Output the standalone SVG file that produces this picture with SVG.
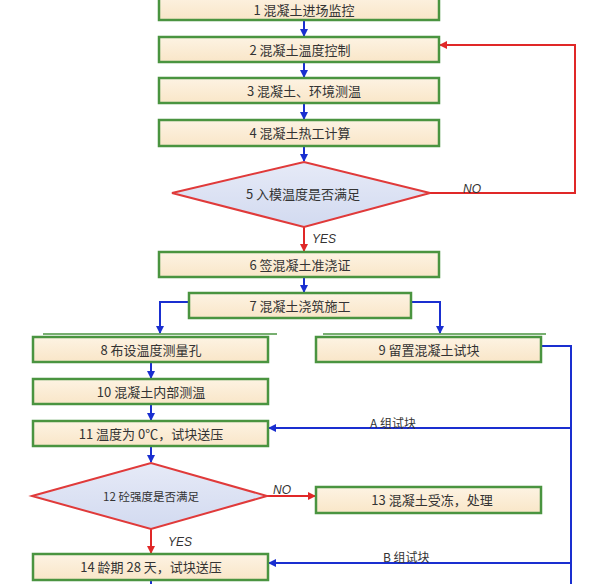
<svg xmlns="http://www.w3.org/2000/svg" width="598" height="584" viewBox="0 0 598 584">
<defs>
<linearGradient id="boxg" x1="0" y1="0" x2="0" y2="1">
<stop offset="0" stop-color="#fdf3e3"/>
<stop offset="1" stop-color="#f9e6c8"/>
</linearGradient>
<linearGradient id="diag" x1="0" y1="0" x2="0" y2="1">
<stop offset="0" stop-color="#e6eaf7"/>
<stop offset="1" stop-color="#d2daf0"/>
</linearGradient>
<marker id="ab" markerWidth="8" markerHeight="8" refX="7" refY="4" orient="auto" markerUnits="userSpaceOnUse">
<path d="M0,0 L8,4 L0,8 Z" fill="#1a2fd0"/>
</marker>
<marker id="ar" markerWidth="8" markerHeight="8" refX="7" refY="4" orient="auto" markerUnits="userSpaceOnUse">
<path d="M0,0 L8,4 L0,8 Z" fill="#e02828"/>
</marker>
</defs>
<style>
.box{fill:url(#boxg);stroke:#4a9440;stroke-width:2.5}
.dia{fill:url(#diag);stroke:#e03a3a;stroke-width:2}
.sh{stroke:#4a9440;stroke-width:1.5;fill:none}
.t{font-family:"Noto Sans CJK SC","Noto Sans",sans-serif;font-size:13px;fill:#333;text-anchor:middle}
.ts{font-family:"Noto Sans CJK SC","Noto Sans",sans-serif;font-size:11.5px;fill:#333;text-anchor:middle}
.lab{font-family:"Noto Sans CJK SC","Noto Sans",sans-serif;font-size:12px;fill:#333}
.yn{font-family:"Liberation Sans",sans-serif;font-size:12px;fill:#333;font-style:italic}
.b{stroke:#1a2fd0;stroke-width:2;fill:none}
.r{stroke:#e02828;stroke-width:2;fill:none}
</style>
<rect width="598" height="584" fill="#ffffff"/>
<g id="connectors">
<line class="b" x1="304" y1="20" x2="304" y2="36" marker-end="url(#ab)"/>
<line class="b" x1="304" y1="62" x2="304" y2="77" marker-end="url(#ab)"/>
<line class="b" x1="304" y1="103" x2="304" y2="119" marker-end="url(#ab)"/>
<line class="b" x1="304" y1="146" x2="304" y2="161" marker-end="url(#ab)"/>
<line class="r" x1="304" y1="227" x2="304" y2="251" marker-end="url(#ar)"/>
<polyline class="r" points="430,193 575,193 575,45 440,45" marker-end="url(#ar)"/>
<line class="b" x1="304" y1="277" x2="304" y2="292" marker-end="url(#ab)"/>
<polyline class="b" points="189,302 160,302 160,333" marker-end="url(#ab)"/>
<polyline class="b" points="411,302 440,302 440,333" marker-end="url(#ab)"/>
<line class="b" x1="151" y1="362" x2="151" y2="378" marker-end="url(#ab)"/>
<line class="b" x1="151" y1="404" x2="151" y2="420" marker-end="url(#ab)"/>
<line class="b" x1="151" y1="446" x2="151" y2="462" marker-end="url(#ab)"/>
<polyline class="b" points="541,346 571,346 571,584"/>
<line class="b" x1="571" y1="428" x2="269" y2="428" marker-end="url(#ab)"/>
<line class="b" x1="571" y1="563" x2="269" y2="563" marker-end="url(#ab)"/>
<line class="r" x1="267" y1="496" x2="315" y2="496" marker-end="url(#ar)"/>
<line class="r" x1="151" y1="529" x2="151" y2="553" marker-end="url(#ar)"/>
<line class="b" x1="151" y1="580" x2="151" y2="584"/>
<text class="yn" x="463" y="193">NO</text>
<text class="yn" x="312" y="243">YES</text>
<text class="yn" x="273" y="494">NO</text>
<text class="yn" x="168" y="546">YES</text>
<text class="lab" x="370" y="428">A 组试块</text>
<text class="lab" x="383" y="562">B 组试块</text>
</g>
<g id="n1"><rect class="box" x="159" y="-6" width="280" height="26"/><text class="t" x="304" y="15">1 混凝土进场监控</text></g>
<g id="n2"><rect class="box" x="159" y="37" width="280" height="25"/><text class="t" x="300" y="55">2 混凝土温度控制</text></g>
<g id="n3"><rect class="box" x="159" y="78" width="280" height="25"/><text class="t" x="304" y="96">3 混凝土、环境测温</text></g>
<g id="n4"><rect class="box" x="159" y="120" width="280" height="26"/><text class="t" x="300" y="138">4 混凝土热工计算</text></g>
<g id="n5"><polygon class="dia" points="172,193 304,162 430,193 304,227"/><text class="t" x="303" y="199">5 入模温度是否满足</text></g>
<g id="n6"><rect class="box" x="159" y="252" width="280" height="25"/><text class="t" x="300" y="270">6 签混凝土准浇证</text></g>
<g id="n7"><rect class="box" x="189" y="293" width="222" height="25"/><text class="t" x="300" y="311">7 混凝土浇筑施工</text></g>
<g id="n8"><line class="sh" x1="43" y1="334" x2="277" y2="334"/><rect class="box" x="33" y="337" width="235" height="25"/><text class="t" x="151" y="355">8 布设温度测量孔</text></g>
<g id="n9"><line class="sh" x1="323" y1="334" x2="546" y2="334"/><rect class="box" x="316" y="337" width="225" height="25"/><text class="t" x="429" y="355">9 留置混凝土试块</text></g>
<g id="n10"><rect class="box" x="33" y="379" width="235" height="25"/><text class="t" x="151" y="397">10 混凝土内部测温</text></g>
<g id="n11"><rect class="box" x="33" y="421" width="235" height="25"/><text class="t" x="151" y="439">11 温度为 0℃，试块送压</text></g>
<g id="n12"><polygon class="dia" points="32,496 151,463 267,496 151,529"/><text class="ts" x="151" y="501">12 砼强度是否满足</text></g>
<g id="n13"><rect class="box" x="316" y="487" width="225" height="26"/><text class="t" x="432" y="505">13 混凝土受冻，处理</text></g>
<g id="n14"><rect class="box" x="33" y="554" width="235" height="26"/><text class="t" x="151" y="572">14 龄期 28 天，试块送压</text></g>
</svg>
